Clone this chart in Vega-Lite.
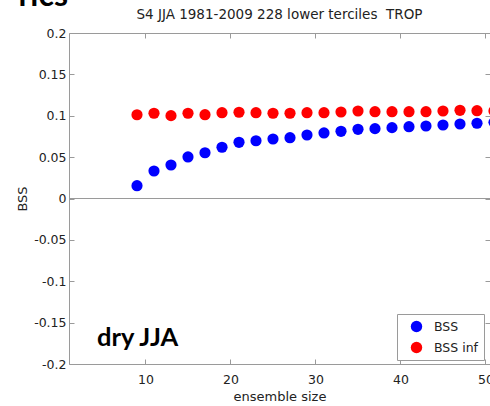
{
  "$schema": "https://vega.github.io/schema/vega-lite/v6.json",
  "autosize": "none",
  "padding": {"left": 69, "top": 33, "right": 0, "bottom": 42},
  "width": 421,
  "height": 331,
  "background": "white",
  "config": {
    "view": {"stroke": null},
    "axis": {"grid": false, "domainColor": "#9a9a9a", "tickColor": "#9a9a9a", "labelFont": "DejaVu Sans", "labelFontSize": 12.5, "labelColor": "#222", "titleFont": "DejaVu Sans", "titleFontSize": 13, "titleFontWeight": "normal", "titleColor": "#222", "tickSize": -5},
    "legend": {"labelFont": "DejaVu Sans", "labelFontSize": 12.5, "labelColor": "#222"}
  },
  "datasets": {
    "one": [{}],
    "points": [
      {"n": 9, "series": "BSS", "value": 0.0155},
      {"n": 11, "series": "BSS", "value": 0.0332},
      {"n": 13, "series": "BSS", "value": 0.0405},
      {"n": 15, "series": "BSS", "value": 0.0502},
      {"n": 17, "series": "BSS", "value": 0.0553},
      {"n": 19, "series": "BSS", "value": 0.0619},
      {"n": 21, "series": "BSS", "value": 0.0679},
      {"n": 23, "series": "BSS", "value": 0.0698},
      {"n": 25, "series": "BSS", "value": 0.0719},
      {"n": 27, "series": "BSS", "value": 0.0735},
      {"n": 29, "series": "BSS", "value": 0.0767},
      {"n": 31, "series": "BSS", "value": 0.0792},
      {"n": 33, "series": "BSS", "value": 0.0812},
      {"n": 35, "series": "BSS", "value": 0.0836},
      {"n": 37, "series": "BSS", "value": 0.0844},
      {"n": 39, "series": "BSS", "value": 0.0856},
      {"n": 41, "series": "BSS", "value": 0.0868},
      {"n": 43, "series": "BSS", "value": 0.0876},
      {"n": 45, "series": "BSS", "value": 0.0888},
      {"n": 47, "series": "BSS", "value": 0.0900},
      {"n": 49, "series": "BSS", "value": 0.0909},
      {"n": 51, "series": "BSS", "value": 0.0921},
      {"n": 9, "series": "BSS inf", "value": 0.1012},
      {"n": 11, "series": "BSS inf", "value": 0.1030},
      {"n": 13, "series": "BSS inf", "value": 0.1001},
      {"n": 15, "series": "BSS inf", "value": 0.1030},
      {"n": 17, "series": "BSS inf", "value": 0.1013},
      {"n": 19, "series": "BSS inf", "value": 0.1037},
      {"n": 21, "series": "BSS inf", "value": 0.1042},
      {"n": 23, "series": "BSS inf", "value": 0.1037},
      {"n": 25, "series": "BSS inf", "value": 0.1030},
      {"n": 27, "series": "BSS inf", "value": 0.1030},
      {"n": 29, "series": "BSS inf", "value": 0.1037},
      {"n": 31, "series": "BSS inf", "value": 0.1037},
      {"n": 33, "series": "BSS inf", "value": 0.1045},
      {"n": 35, "series": "BSS inf", "value": 0.1057},
      {"n": 37, "series": "BSS inf", "value": 0.1049},
      {"n": 39, "series": "BSS inf", "value": 0.1049},
      {"n": 41, "series": "BSS inf", "value": 0.1049},
      {"n": 43, "series": "BSS inf", "value": 0.1049},
      {"n": 45, "series": "BSS inf", "value": 0.1057},
      {"n": 47, "series": "BSS inf", "value": 0.1066},
      {"n": 49, "series": "BSS inf", "value": 0.1061},
      {"n": 51, "series": "BSS inf", "value": 0.1057}
    ]
  },
  "layer": [
    {
      "data": {"name": "one"},
      "mark": {"type": "rule", "color": "#9a9a9a", "strokeWidth": 1},
      "encoding": {
        "y": {"datum": 0, "type": "quantitative", "scale": {"domain": [-0.2, 0.2], "nice": false}, "axis": null}
      }
    },
    {
      "data": {"name": "points"},
      "mark": {"type": "circle", "size": 125, "opacity": 1, "clip": true},
      "encoding": {
        "x": {"field": "n", "type": "quantitative", "scale": {"domain": [1, 50.53], "nice": false, "zero": false},
              "axis": {"orient": "bottom", "values": [10, 20, 30, 40, 50], "title": "ensemble size", "labelPadding": 14, "titlePadding": 5}},
        "y": {"field": "value", "type": "quantitative", "scale": {"domain": [-0.2, 0.2], "nice": false},
              "axis": {"orient": "left", "values": [-0.2, -0.15, -0.1, -0.05, 0, 0.05, 0.1, 0.15, 0.2], "labelExpr": "'' + datum.value", "title": "BSS", "labelPadding": 8, "titlePadding": 4}},
        "color": {"field": "series", "type": "nominal",
                  "scale": {"domain": ["BSS", "BSS inf"], "range": ["#0000ff", "#ff0000"]},
                  "legend": {"title": null, "orient": "none", "legendX": 328, "legendY": 281, "symbolType": "circle", "symbolSize": 130, "symbolOpacity": 1, "padding": 6, "strokeColor": "#9a9a9a", "fillColor": "white", "symbolOffset": 7, "labelOffset": 11, "rowPadding": 8}}
      }
    },
    {
      "data": {"name": "one"},
      "mark": {"type": "text", "font": "Lato", "fontWeight": "bold", "fontSize": 25.5, "align": "left", "baseline": "alphabetic", "color": "black"},
      "encoding": {
        "x": {"datum": 4.3, "type": "quantitative", "scale": {"domain": [1, 50.53], "nice": false, "zero": false},
              "axis": {"orient": "top", "values": [10, 20, 30, 40, 50], "labels": false, "title": null}},
        "y": {"datum": -0.1783, "type": "quantitative", "scale": {"domain": [-0.2, 0.2], "nice": false},
              "axis": {"orient": "right", "values": [-0.2, -0.15, -0.1, -0.05, 0, 0.05, 0.1, 0.15, 0.2], "labels": false, "title": null, "domain": false}},
        "text": {"value": "dry JJA"}
      }
    },
    {
      "data": {"name": "one"},
      "mark": {"type": "text", "font": "DejaVu Sans", "fontSize": 13.5, "align": "center", "baseline": "alphabetic", "color": "#222"},
      "encoding": {
        "x": {"datum": 25.76, "type": "quantitative", "scale": {"domain": [1, 50.53], "nice": false, "zero": false}, "axis": null},
        "y": {"datum": 0.2169, "type": "quantitative", "scale": {"domain": [-0.2, 0.2], "nice": false}, "axis": null},
        "text": {"value": "S4 JJA 1981-2009 228 lower terciles \u00a0TROP"}
      }
    },
    {
      "data": {"name": "one"},
      "mark": {"type": "text", "font": "Lato", "fontWeight": "bold", "fontSize": 32, "align": "right", "baseline": "alphabetic", "color": "black"},
      "encoding": {
        "x": {"datum": 0.88, "type": "quantitative", "scale": {"domain": [1, 50.53], "nice": false, "zero": false}, "axis": null},
        "y": {"datum": 0.2326, "type": "quantitative", "scale": {"domain": [-0.2, 0.2], "nice": false}, "axis": null},
        "text": {"value": "rics"}
      }
    }
  ],
  "resolve": {"axis": {"x": "independent", "y": "independent"}}
}
